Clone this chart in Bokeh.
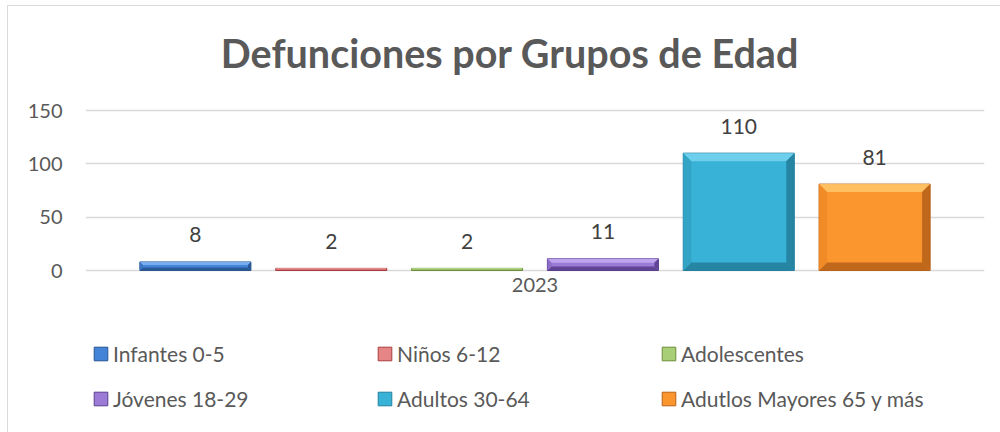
from bokeh.plotting import figure
from bokeh.models import ColumnDataSource, Range1d, FixedTicker, Legend, LegendItem
from bokeh.core.properties import value
from bokeh.embed import file_html
from bokeh.resources import INLINE

# ---- data ----
title = "Defunciones por Grupos de Edad"
categories = ["2023"]
series = ["Infantes 0-5", "Niños 6-12", "Adolescentes",
          "Jóvenes 18-29", "Adultos 30-64", "Adutlos Mayores 65 y más"]
values = [8, 2, 2, 11, 110, 81]
y_ticks = [0, 50, 100, 150]

# ---- styles ----
main_colors = ["#4484D8", "#E58585", "#A8CF78", "#9B7BD5", "#38B2D6", "#FB962F"]
light_colors = ["#7DB2F2", "#F4B0B0", "#CDE8A8", "#C3A9F2", "#74D2EE", "#FFC468"]
dark_colors = ["#27548F", "#A83C3C", "#6E8F3A", "#5B3F8E", "#23809D", "#B8621A"]
side_colors = ["#3A74C2", "#D06F6F", "#95BC64", "#8A6AC4", "#33A2C4", "#EE8A28"]

FONT = "Lato"
GREY = "#595959"
GRID = "#D9D9D9"

W, H = 993, 427
BL, BR = 77, 17
FRAME_W = W - BL - BR          # 899
FRAME_H = H                    # frame spans full height (title and legend live inside)
TOP_PAD_PX = 104               # from frame top to the highest gridline
PX_PER_UNIT = 160 / 150        # vertical scale of the value axis
Y_MAX = max(y_ticks)
Y_TOP = Y_MAX + TOP_PAD_PX / PX_PER_UNIT
Y_MIN = Y_MAX - (FRAME_H - TOP_PAD_PX) / PX_PER_UNIT

slot = 0.1511
bar_w = 0.1235

n = len(series)
centers = [(i - (n - 1) / 2) * slot for i in range(n)]

p = figure(width=W, height=H, output_backend="svg", toolbar_location=None,
           x_range=Range1d(-0.5, 0.5), y_range=Range1d(Y_MIN, Y_TOP),
           min_border_left=BL, min_border_right=BR, min_border_top=0,
           min_border_bottom=0)
p.styles = {"margin-left": "7px", "margin-top": "5px",
            "border-top": "1px solid #D9D9D9", "border-left": "1px solid #D9D9D9"}

src = ColumnDataSource(dict(x=centers, top=values, fill=main_colors, line=dark_colors,
                            name=series, lbl=[str(v) for v in values]))
bars = p.vbar(x="x", top="top", width=bar_w, source=src, fill_color="fill",
              line_color="line", line_width=1)

# bevel facets computed from the data
xs_all, ys_all, cs_all = [], [], []
for c, v, lc, dc, sc in zip(centers, values, light_colors, dark_colors, side_colors):
    L, R = c - bar_w / 2, c + bar_w / 2
    h_px = v * PX_PER_UNIT
    b_px = min(8.0, h_px * 0.35)
    bx = b_px / FRAME_W
    by = b_px / PX_PER_UNIT
    T = v
    facets = [
        ([L, R, R - bx, L + bx], [T, T, T - by, T - by], lc),
        ([L, R, R - bx, L + bx], [0, 0, by, by], dc),
        ([L, L, L + bx, L + bx], [0, T, T - by, by], sc),
        ([R, R, R - bx, R - bx], [0, T, T - by, by], dc),
    ]
    for fx, fy, col in facets:
        xs_all.append(fx)
        ys_all.append(fy)
        cs_all.append(col)
p.patches(xs=xs_all, ys=ys_all, fill_color=cs_all, line_color=None, fill_alpha=0.9)

# data labels
p.text(x="x", y="top", text="lbl", source=src, text_align="center",
       text_baseline="alphabetic", y_offset=-27, text_font=value(FONT),
       text_font_size="21px", text_color="#404040")

# category label (x axis) under the zero line
cat_src = ColumnDataSource(dict(x=[0.0], y=[0], t=categories))
p.text(x="x", y="y", text="t", source=cat_src, text_align="center",
       text_baseline="top", y_offset=7, text_font=value(FONT),
       text_font_size="20px", text_color=GREY)
p.xaxis.visible = False

# chart title, anchored to the top of the chart area
title_src = ColumnDataSource(dict(x=[0.0], y=[Y_TOP], t=[title]))
p.text(x="x", y="y", text="t", source=title_src, text_align="center",
       text_baseline="alphabetic", x_offset=-25, y_offset=46,
       text_font=value(FONT), text_font_style="bold", text_font_size="39.5px",
       text_color=GREY)

p.yaxis.ticker = FixedTicker(ticks=y_ticks)
p.yaxis.axis_line_color = None
p.yaxis.major_tick_line_color = None
p.yaxis.minor_tick_line_color = None
p.yaxis.major_label_standoff = 17
p.yaxis.major_label_text_font = FONT
p.yaxis.major_label_text_font_size = "20px"
p.yaxis.major_label_text_color = GREY

p.xgrid.grid_line_color = None
p.ygrid.grid_line_color = GRID
p.ygrid.grid_line_width = 1.5
p.outline_line_color = None

# legend
items = [LegendItem(label=s, renderers=[bars], index=i) for i, s in enumerate(series)]
legend = Legend(items=items, orientation="horizontal", ncols=3, location=(7, 22),
                glyph_width=17, glyph_height=17, label_height=24, label_standoff=4,
                label_width=243, spacing=20, padding=0, margin=0,
                label_text_font=FONT, label_text_font_size="21px",
                label_text_color=GREY, border_line_color=None,
                background_fill_alpha=0)
p.add_layout(legend, "center")

open("out.html", "w").write(file_html(p, INLINE))
